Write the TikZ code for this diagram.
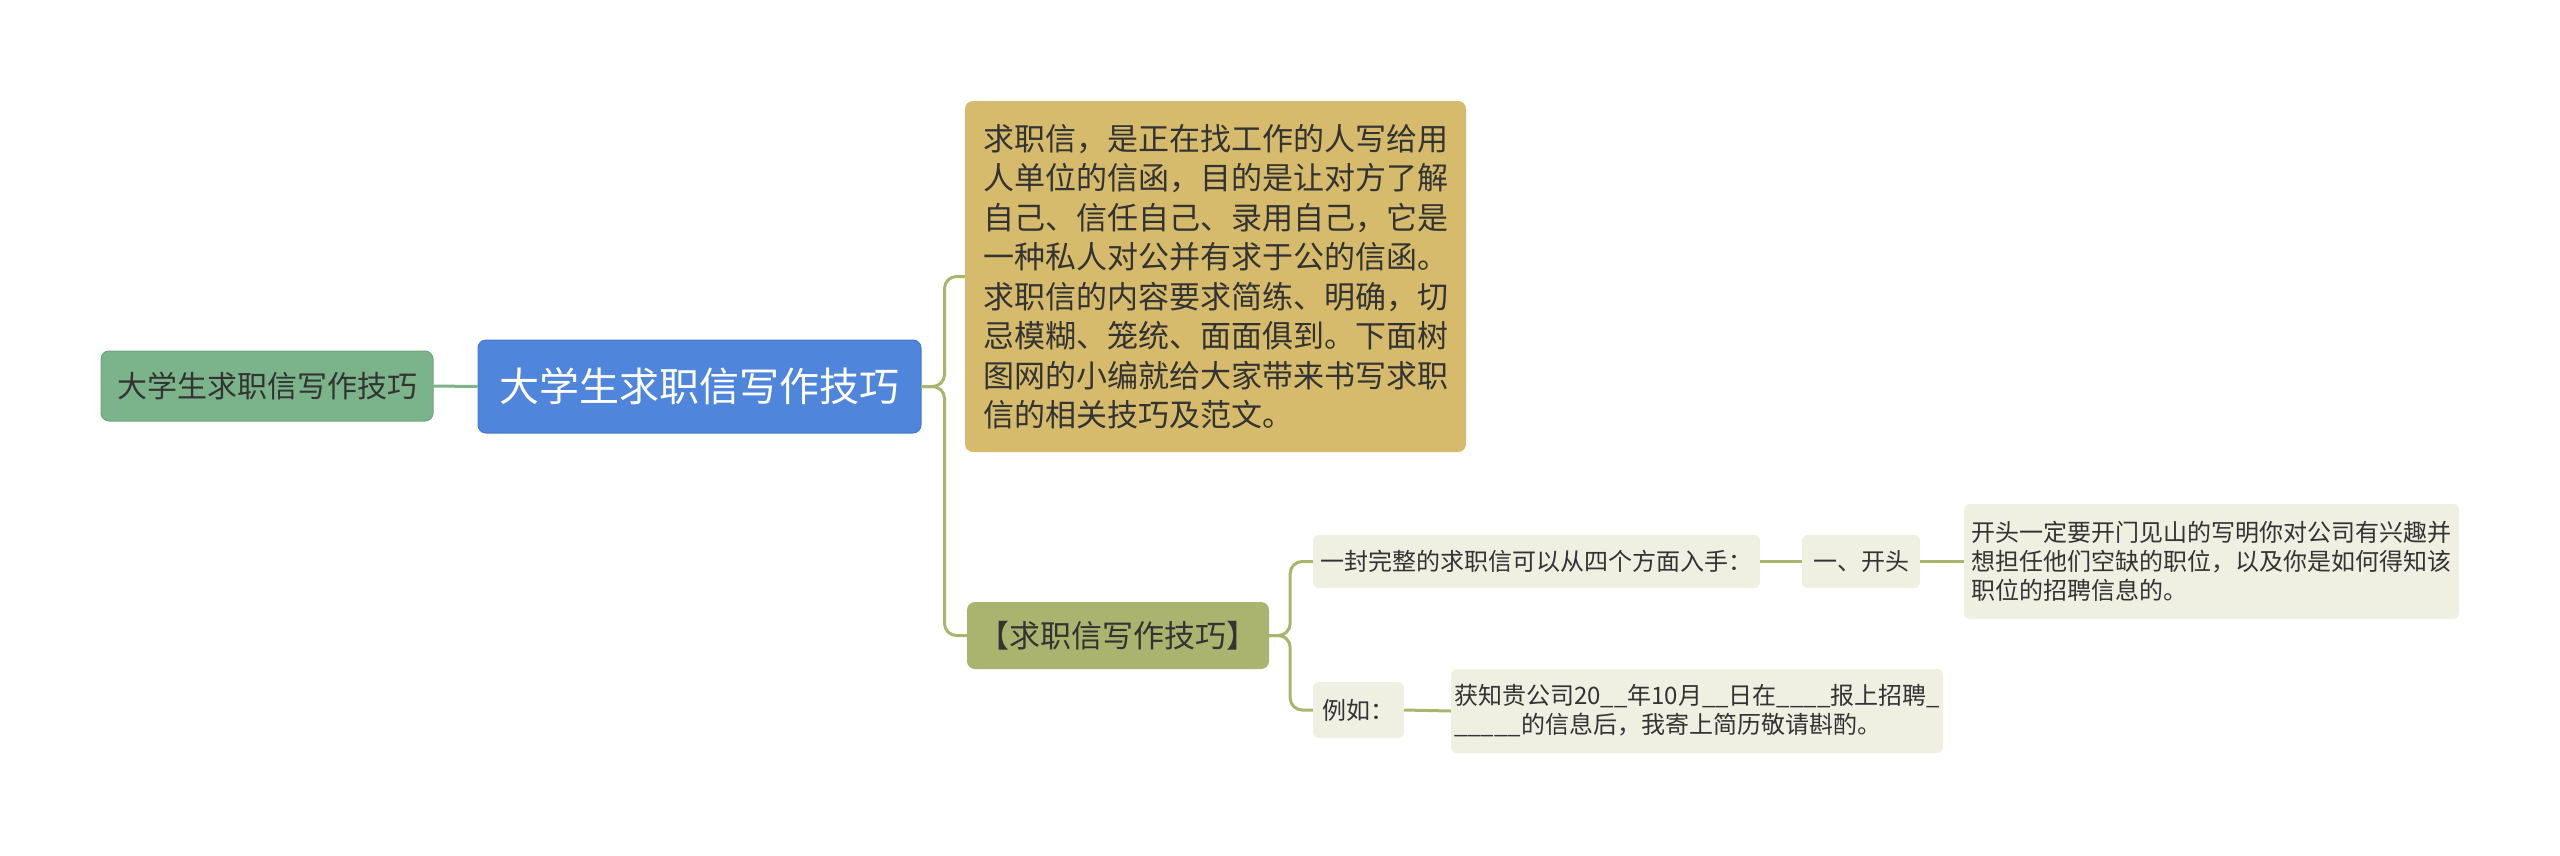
\documentclass[tikz,border=0pt]{standalone}
\usepackage{fontspec}
\setmainfont{Noto Sans CJK SC}
\definecolor{greenfill}{HTML}{7BB38A}
\definecolor{greenline}{HTML}{6FA47E}
\definecolor{bluefill}{HTML}{4F86DB}
\definecolor{blueline}{HTML}{4479CC}
\definecolor{tanfill}{HTML}{D5BB6B}
\definecolor{olivefill}{HTML}{ABB46E}
\definecolor{leaffill}{HTML}{EFEFE2}
\definecolor{conncol}{HTML}{A9B46C}
\definecolor{txt}{HTML}{333333}
\begin{document}
\begin{tikzpicture}[x=1pt,y=-1pt,
  box/.style={rounded corners=8pt, inner sep=0pt, text=txt, align=left},
  conn/.style={draw=conncol, line width=3pt, rounded corners=12pt},
  big/.style={font=\fontsize{31}{39.5}\selectfont},
  small/.style={font=\fontsize{24}{29}\selectfont},
]
\useasboundingbox (0,0) rectangle (2560,855);
\node[box, font=\fontsize{30}{39}\selectfont, fill=greenfill, draw=greenline, line width=1pt, minimum width=332pt, minimum height=70pt] (root) at (267,386) {大学生求职信写作技巧};
\node[box, fill=bluefill, draw=blueline, line width=1pt, text=white, font=\fontsize{40}{48}\selectfont, minimum width=443pt, minimum height=93pt] (main) at (699.5,386.5) {大学生求职信写作技巧};
\node[box, big, fill=tanfill, minimum width=501pt, minimum height=351pt] (intro) at (1215.5,276.5) {求职信，是正在找工作的人写给用\\人单位的信函，目的是让对方了解\\自己、信任自己、录用自己，它是\\一种私人对公并有求于公的信函。\\求职信的内容要求简练、明确，切\\忌模糊、笼统、面面俱到。下面树\\图网的小编就给大家带来书写求职\\信的相关技巧及范文。};
\node[box, big, fill=olivefill, minimum width=302pt, minimum height=67pt] (tips) at (1118,635.5) {【求职信写作技巧】};
\node[box, small, fill=leaffill, minimum width=447pt, minimum height=53pt, rounded corners=6pt] (four) at (1536.5,561.5) {一封完整的求职信可以从四个方面入手：};
\node[box, small, fill=leaffill, minimum width=118pt, minimum height=53pt, rounded corners=6pt] (open) at (1861,561.5) {一、开头};
\node[box, small, fill=leaffill, minimum width=495pt, minimum height=115pt, rounded corners=6pt] (opentext) at (2211.5,561.5) {开头一定要开门见山的写明你对公司有兴趣并\\想担任他们空缺的职位，以及你是如何得知该\\职位的招聘信息的。};
\node[box, small, fill=leaffill, minimum width=91pt, minimum height=56pt, rounded corners=6pt] (eg) at (1358.5,710) {例如：};
\node[box, small, fill=leaffill, minimum width=492pt, minimum height=84pt, rounded corners=6pt] (egtext) at (1697,711) {获知贵公司20\_\_年10月\_\_日在\_\_\_\_报上招聘\_\\\_\_\_\_\_的信息后，我寄上简历敬请斟酌。};
\draw[line width=3pt, draw=greenfill] (root.east) -- (main.west);
\draw[conn] (main.east) -- ++(23,0) |- (intro.west);
\draw[conn] (main.east) -- ++(23,0) |- (tips.west);
\draw[conn] (tips.east) -- ++(21,0) |- (four.west);
\draw[conn] (tips.east) -- ++(21,0) |- (eg.west);
\draw[conn] (four.east) -- (open.west);
\draw[conn] (open.east) -- (opentext.west);
\draw[conn] (eg.east) -- (egtext.west);
\end{tikzpicture}
\end{document}
